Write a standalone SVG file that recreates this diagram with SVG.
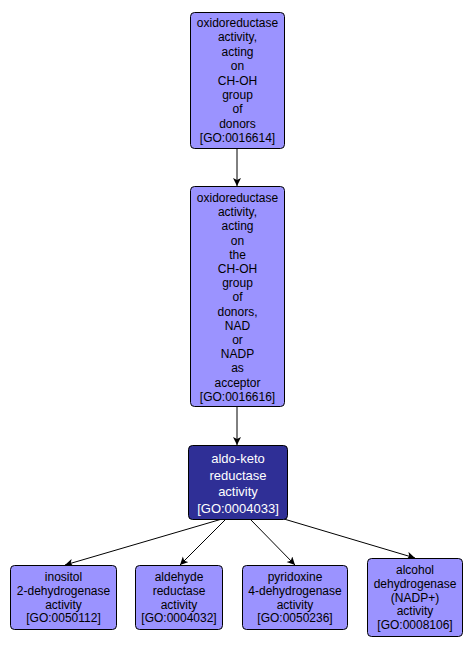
<svg xmlns="http://www.w3.org/2000/svg" width="473" height="651" viewBox="0 0 473 651">
<style>
.n rect{fill:#9b93ff;stroke:#000;stroke-width:1}
.n text{font-family:"Liberation Sans",Arial,sans-serif;font-size:12px;fill:#000;text-anchor:middle}
.d rect{fill:#2f2f96;stroke:#000;stroke-width:1}
.d text{font-family:"Liberation Sans",Arial,sans-serif;font-size:13px;fill:#fff;text-anchor:middle}
.e line{stroke:#000;stroke-width:1}
</style>
<defs>
<marker id="a" markerWidth="10" markerHeight="10" refX="8" refY="4" orient="auto" markerUnits="userSpaceOnUse">
<path d="M0,0 L8,4 L0,8 L2,4 Z" fill="#000"/>
</marker>
</defs>
<rect width="473" height="651" fill="#fff"/>
<g id="edges" class="e">
<line x1="237" y1="148" x2="237" y2="186" marker-end="url(#a)"/>
<line x1="237" y1="406" x2="237" y2="445" marker-end="url(#a)"/>
<line x1="222" y1="519" x2="65" y2="565" marker-end="url(#a)"/>
<line x1="226" y1="519" x2="180" y2="565" marker-end="url(#a)"/>
<line x1="250" y1="519" x2="295" y2="565" marker-end="url(#a)"/>
<line x1="284" y1="519" x2="415" y2="558" marker-end="url(#a)"/>
</g>
<g id="GO0016614" class="n">
<rect x="190.5" y="12.5" width="94" height="136" rx="4"/>
<text x="237.5" y="27">oxidoreductase</text>
<text x="237.5" y="41.4">activity,</text>
<text x="237.5" y="55.8">acting</text>
<text x="237.5" y="70.2">on</text>
<text x="237.5" y="84.6">CH-OH</text>
<text x="237.5" y="99">group</text>
<text x="237.5" y="113.4">of</text>
<text x="237.5" y="127.8">donors</text>
<text x="237.5" y="142.2">[GO:0016614]</text>
</g>
<g id="GO0016616" class="n">
<rect x="190.5" y="186.5" width="94" height="220" rx="4"/>
<text x="237.5" y="202">oxidoreductase</text>
<text x="237.5" y="216.2">activity,</text>
<text x="237.5" y="230.4">acting</text>
<text x="237.5" y="244.6">on</text>
<text x="237.5" y="258.8">the</text>
<text x="237.5" y="273">CH-OH</text>
<text x="237.5" y="287.2">group</text>
<text x="237.5" y="301.4">of</text>
<text x="237.5" y="315.6">donors,</text>
<text x="237.5" y="329.8">NAD</text>
<text x="237.5" y="344">or</text>
<text x="237.5" y="358.2">NADP</text>
<text x="237.5" y="372.4">as</text>
<text x="237.5" y="386.6">acceptor</text>
<text x="237.5" y="400.8">[GO:0016616]</text>
</g>
<g id="GO0004033" class="d">
<rect x="188.5" y="445.5" width="99" height="74" rx="4"/>
<text x="238" y="463">aldo-keto</text>
<text x="238" y="479.5">reductase</text>
<text x="238" y="496">activity</text>
<text x="238" y="512.5">[GO:0004033]</text>
</g>
<g id="GO0050112" class="n">
<rect x="10.5" y="565.5" width="106" height="64" rx="4"/>
<text x="63.5" y="581">inositol</text>
<text x="63.5" y="594.8">2-dehydrogenase</text>
<text x="63.5" y="608.6">activity</text>
<text x="63.5" y="622.4">[GO:0050112]</text>
</g>
<g id="GO0004032" class="n">
<rect x="135.5" y="565.5" width="87" height="64" rx="4"/>
<text x="179" y="581">aldehyde</text>
<text x="179" y="594.8">reductase</text>
<text x="179" y="608.6">activity</text>
<text x="179" y="622.4">[GO:0004032]</text>
</g>
<g id="GO0050236" class="n">
<rect x="242.5" y="565.5" width="105" height="64" rx="4"/>
<text x="295" y="581">pyridoxine</text>
<text x="295" y="594.8">4-dehydrogenase</text>
<text x="295" y="608.6">activity</text>
<text x="295" y="622.4">[GO:0050236]</text>
</g>
<g id="GO0008106" class="n">
<rect x="367.5" y="558.5" width="95" height="78" rx="4"/>
<text x="415" y="574">alcohol</text>
<text x="415" y="587.8">dehydrogenase</text>
<text x="415" y="601.6">(NADP+)</text>
<text x="415" y="615.4">activity</text>
<text x="415" y="629.2">[GO:0008106]</text>
</g>
</svg>
